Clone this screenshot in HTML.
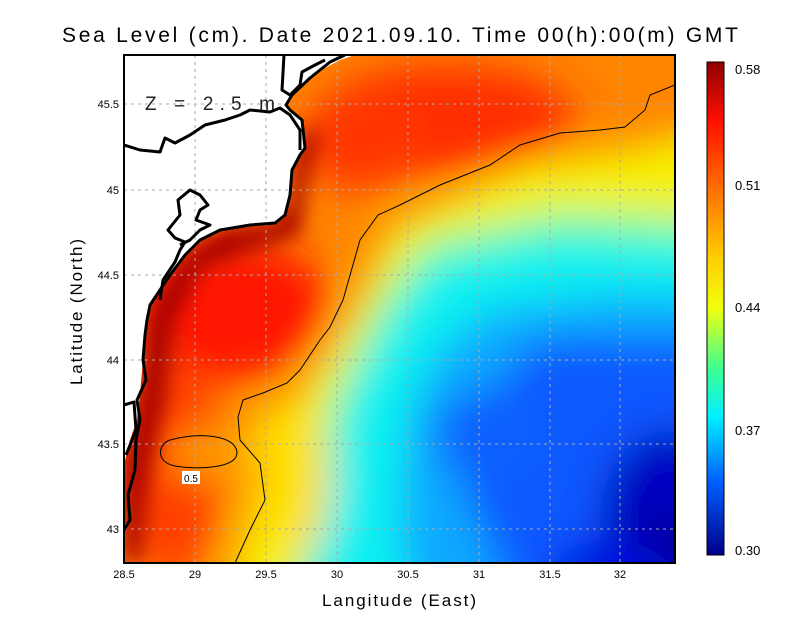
<!DOCTYPE html>
<html><head><meta charset="utf-8"><style>
html,body{margin:0;padding:0;background:#fff;width:800px;height:618px;overflow:hidden;}
svg{display:block;overflow:hidden;font-family:"Liberation Sans",sans-serif;}
</style></head><body>
<svg width="800" height="618" viewBox="0 0 800 618" xmlns="http://www.w3.org/2000/svg">
<defs>
<clipPath id="plot"><rect x="124" y="55" width="551" height="508"/></clipPath>
<clipPath id="ocean"><polygon points="124,563 124,465 130,440 137,420 140,395 143,360 147,320 150,305 160,290 170,275 185,255 200,240 220,230 250,225 275,223 285,215 290,195 292,170 300,155 306,148 303,120 292,110 286,105 292,95 312,75 340,60 355,55 675,55 675,563"/></clipPath>
<filter id="b" x="-20%" y="-20%" width="140%" height="140%"><feGaussianBlur stdDeviation="20"/></filter>
<filter id="b2" x="-20%" y="-20%" width="140%" height="140%"><feGaussianBlur stdDeviation="10"/></filter>
<linearGradient id="cb" x1="0" y1="0" x2="0" y2="1">
<stop offset="0" stop-color="#900000"/><stop offset="0.12" stop-color="#ff1000"/><stop offset="0.3" stop-color="#ff8c00"/><stop offset="0.4" stop-color="#ffd000"/><stop offset="0.5" stop-color="#f0ff10"/><stop offset="0.62" stop-color="#40ff90"/><stop offset="0.72" stop-color="#00f0ff"/><stop offset="0.85" stop-color="#0060ff"/><stop offset="1" stop-color="#00008a"/>
</linearGradient>
</defs>
<text x="62" y="42" font-size="21" textLength="676" lengthAdjust="spacing">Sea Level (cm). Date 2021.09.10. Time 00(h):00(m) GMT</text>
<g clip-path="url(#ocean)">
<rect x="124" y="55" width="551" height="508" fill="#ff8400"/>
<g filter="url(#b)">
<polygon points="390,225 520,165 640,145 760,110 760,615 220,615 255,480 250,420 300,390 345,320" fill="#f6f000"/>
<polygon points="425,240 560,210 760,220 760,615 290,615 310,500 330,400 380,300" fill="#70ffa0"/>
<polygon points="435,260 560,235 760,250 760,615 300,615 325,500 345,400 395,305" fill="#10f0f0"/>
<polygon points="490,310 620,295 760,300 760,615 410,615 400,520 410,410 440,350" fill="#10a8ff"/>
<polygon points="540,340 760,340 760,615 520,615 460,480 480,400" fill="#0858ff"/>
<ellipse cx="490" cy="435" rx="55" ry="45" fill="#0860ff"/>
<ellipse cx="670" cy="520" rx="70" ry="90" fill="#0000c0"/>
<ellipse cx="660" cy="560" rx="40" ry="40" fill="#000090"/>
<ellipse cx="610" cy="575" rx="60" ry="35" fill="#0010e0"/>
<ellipse cx="445" cy="120" rx="130" ry="55" fill="#ff2e00"/>
<ellipse cx="360" cy="140" rx="60" ry="50" fill="#ff3400"/>
<ellipse cx="235" cy="310" rx="95" ry="70" fill="#ff1800"/>
<ellipse cx="170" cy="470" rx="50" ry="110" fill="#ff3c00"/>
<ellipse cx="205" cy="455" rx="40" ry="22" fill="#ffa000"/>
<ellipse cx="295" cy="480" rx="35" ry="80" fill="#ffe000"/>
</g>
<g filter="url(#b2)">
<polygon points="124,563 124,465 132,430 138,400 143,360 147,320 160,290 185,255 220,230 275,223 290,200 295,160 306,130 320,130 305,190 300,235 250,250 200,270 175,320 165,400 150,470 140,563" fill="#a80000"/>
</g>
</g>
<g stroke="#aaa" stroke-width="1" stroke-dasharray="3,4" clip-path="url(#plot)">
<line x1="195" y1="55" x2="195" y2="563"/><line x1="266" y1="55" x2="266" y2="563"/><line x1="337" y1="55" x2="337" y2="563"/><line x1="408" y1="55" x2="408" y2="563"/><line x1="479" y1="55" x2="479" y2="563"/><line x1="550" y1="55" x2="550" y2="563"/><line x1="620" y1="55" x2="620" y2="563"/>
<line x1="124" y1="104" x2="675" y2="104"/><line x1="124" y1="190" x2="675" y2="190"/><line x1="124" y1="275" x2="675" y2="275"/><line x1="124" y1="360" x2="675" y2="360"/><line x1="124" y1="444" x2="675" y2="444"/><line x1="124" y1="529" x2="675" y2="529"/>
</g>
<g clip-path="url(#plot)" fill="none" stroke="#000">
<polyline stroke-width="1" points="675,85 650,95 645,110 625,127 600,130 560,133 520,145 490,165 440,185 400,205 378,215 360,240 343,300 330,327 320,340 300,370 287,383 263,393 243,400 238,417 240,440 260,463 265,500 250,530 235,563"/>
<path stroke-width="1" d="M170,440 C200,432 235,435 237,452 C238,468 200,470 175,466 C155,462 158,444 170,440Z"/>
<polyline stroke-width="3" stroke-linejoin="round" points="124,530 130,520 128,495 135,470 136,440 140,420 137,400 146,380 143,360 145,335 147,320 150,305 160,290 170,275 185,255 200,240 220,230 250,225 275,223 285,215 290,195 292,170 300,155 305,148 302,120 290,110 286,105 292,95 310,78 330,62 345,55"/>
<polyline stroke-width="3" stroke-linejoin="round" points="124,145 140,150 160,152 165,138 175,143 190,135 205,125 225,120 240,115 250,110 270,112 280,108 290,115 300,130 300,150"/>
<polyline stroke-width="3" stroke-linejoin="round" points="284,55 282,90 290,95 300,85 302,72 315,65 325,60"/>
<polyline stroke-width="3" stroke-linejoin="round" points="160,300 163,280 175,262 180,250 185,242 175,238 168,230 180,215 178,200 190,190 200,195 208,205 200,210 196,220 210,225 200,230 190,240 180,245"/>
<polyline stroke-width="3" stroke-linejoin="round" points="124,405 134,402 136,430 126,455"/>
</g>
<rect x="182" y="471" width="18" height="13" fill="#fff"/>
<text x="191" y="482" text-anchor="middle" font-size="10">0.5</text>
<text x="145" y="110" font-size="19" fill="#222" textLength="130" lengthAdjust="spacing">Z = 2.5 m</text>
<rect x="124" y="55" width="551" height="508" fill="none" stroke="#000" stroke-width="2"/>
<g font-size="11" text-anchor="middle">
<text x="124" y="578">28.5</text><text x="195" y="578">29</text><text x="266" y="578">29.5</text><text x="337" y="578">30</text><text x="408" y="578">30.5</text><text x="479" y="578">31</text><text x="550" y="578">31.5</text><text x="620" y="578">32</text>
</g>
<g font-size="11" text-anchor="end">
<text x="119" y="108">45.5</text><text x="119" y="194">45</text><text x="119" y="279">44.5</text><text x="119" y="364">44</text><text x="119" y="448">43.5</text><text x="119" y="533">43</text>
</g>
<text x="322" y="606" font-size="17" textLength="154" lengthAdjust="spacing">Langitude (East)</text>
<text transform="translate(82,385) rotate(-90)" font-size="17" textLength="146" lengthAdjust="spacing">Latitude (North)</text>
<rect x="707" y="62" width="17" height="493" fill="url(#cb)" stroke="#000"/>
<g font-size="13">
<text x="735" y="74">0.58</text><text x="735" y="190">0.51</text><text x="735" y="312">0.44</text><text x="735" y="435">0.37</text><text x="735" y="555">0.30</text>
</g>
</svg>
</body></html>
